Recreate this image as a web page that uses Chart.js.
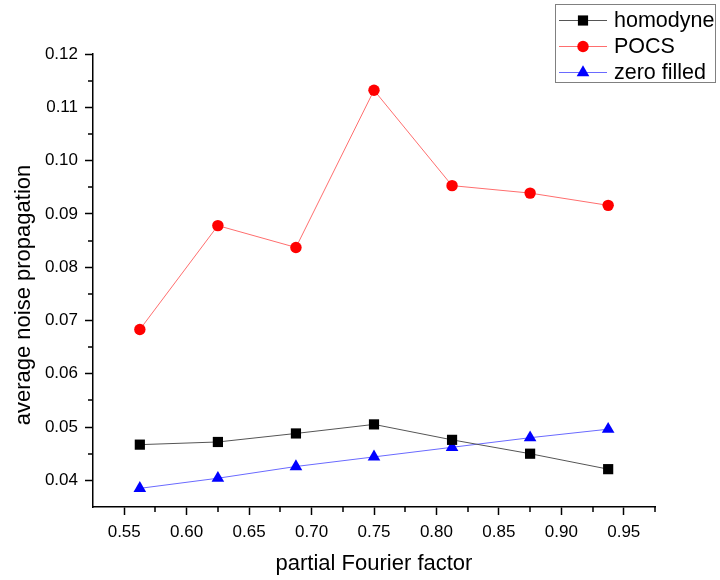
<!DOCTYPE html>
<html>
<head>
<meta charset="utf-8">
<title>average noise propagation</title>
<script src="https://cdn.jsdelivr.net/npm/chart.js@4/dist/chart.umd.min.js"></script>
<style>
  html, body { margin: 0; padding: 0; background: #fff; }
  canvas { display: block; }
</style>
</head>
<body>
<canvas id="chart" width="720" height="580"></canvas>
<script>
// data
const factors = [0.5625, 0.625, 0.6875, 0.75, 0.8125, 0.875, 0.9375];
const homodyne = [0.0467, 0.0472, 0.0488, 0.0505, 0.0476, 0.0450, 0.0421];
const pocs = [0.0683, 0.0878, 0.0837, 0.1132, 0.0953, 0.0939, 0.0916];
const zeroFilled = [0.0385, 0.0404, 0.0426, 0.0444, 0.0462, 0.0480, 0.0496];
const xTicks = [0.55, 0.60, 0.65, 0.70, 0.75, 0.80, 0.85, 0.90, 0.95];
const yTicks = [0.04, 0.05, 0.06, 0.07, 0.08, 0.09, 0.10, 0.11, 0.12];
const yTitle = 'average noise propagation';
const xTitle = 'partial Fourier factor';

const FONT = 'Arial, "Liberation Sans", sans-serif';

const toPoints = (ys) => ys.map((y, i) => ({ x: factors[i], y: y }));

// small marker painter for the legend box
function drawMarker(ctx, style, x, y, r, color) {
    ctx.save();
    ctx.fillStyle = color;
    ctx.beginPath();
    if (style === 'rect') {
        const s = Math.SQRT1_2 * r;
        ctx.rect(x - s, y - s, 2 * s, 2 * s);
    } else if (style === 'circle') {
        ctx.arc(x, y, r, 0, Math.PI * 2);
    } else {
        ctx.moveTo(x, y - r);
        ctx.lineTo(x + r * Math.sin(Math.PI * 2 / 3), y + r / 2);
        ctx.lineTo(x - r * Math.sin(Math.PI * 2 / 3), y + r / 2);
        ctx.closePath();
    }
    ctx.fill();
    ctx.restore();
}

// minor ticks half way between the major ones, pointing outward
const minorTicks = {
    id: 'minorTicks',
    afterDraw(chart) {
        const ctx = chart.ctx;
        const xs = chart.scales.x, ys = chart.scales.y;
        const area = chart.chartArea;
        ctx.save();
        ctx.strokeStyle = '#000';
        ctx.lineWidth = 1.5;
        ctx.beginPath();
        for (let i = 0; i < xTicks.length; i++) {
            const v = xTicks[i] + 0.025;
            if (v > xs.max + 1e-9) continue;
            const px = Math.round(xs.getPixelForValue(v));
            ctx.moveTo(px, area.bottom);
            ctx.lineTo(px, area.bottom + 5);
        }
        for (let i = 0; i < yTicks.length - 1; i++) {
            const v = yTicks[i] + 0.005;
            const py = Math.round(ys.getPixelForValue(v));
            ctx.moveTo(area.left, py);
            ctx.lineTo(area.left - 5, py);
        }
        ctx.stroke();

        // y title sits a bit below the middle of the axis in the original
        ctx.fillStyle = '#000';
        ctx.font = '22px ' + FONT;
        ctx.textAlign = 'center';
        ctx.textBaseline = 'middle';
        ctx.translate(24, 295);
        ctx.rotate(-Math.PI / 2);
        ctx.fillText(yTitle, 0, 0);
        ctx.restore();
    }
};

// boxed legend in the top right corner
const boxLegend = {
    id: 'boxLegend',
    afterDraw(chart) {
        const ctx = chart.ctx;
        ctx.save();
        ctx.strokeStyle = '#808080';
        ctx.lineWidth = 1;
        ctx.strokeRect(555.5, 4.5, 160, 78);
        const rows = [20.5, 46.5, 72.5];
        chart.data.datasets.forEach((ds, i) => {
            const y = rows[i];
            ctx.strokeStyle = ds.borderColor;
            ctx.lineWidth = 1;
            ctx.beginPath();
            ctx.moveTo(559, y);
            ctx.lineTo(607, y);
            ctx.stroke();
            drawMarker(ctx, ds.pointStyle, 583, y, ds.pointRadius, ds.pointBackgroundColor);
            ctx.fillStyle = '#000';
            ctx.font = '21.5px ' + FONT;
            ctx.textBaseline = 'middle';
            ctx.textAlign = 'left';
            ctx.fillText(ds.label, 614, y + 1);
        });
        ctx.restore();
    }
};

const series = [
    { label: 'homodyne', data: toPoints(homodyne), line: '#555555', color: '#000000', style: 'rect', r: 7.2 },
    { label: 'POCS', data: toPoints(pocs), line: '#ff6e6e', color: '#ff0000', style: 'circle', r: 5.7 },
    { label: 'zero filled', data: toPoints(zeroFilled), line: '#6a6aff', color: '#0000ff', style: 'triangle', r: 7.3 }
];

const axisCommon = {
    type: 'linear',
    border: { display: true, color: '#000', width: 1.5 },
    grid: {
        drawOnChartArea: false,
        drawTicks: true,
        tickLength: 8,
        tickColor: '#000',
        tickWidth: 1.5
    },
    ticks: { color: '#000', font: { family: FONT, size: 17 }, padding: 7 }
};

new Chart(document.getElementById('chart'), {
    type: 'line',
    data: {
        datasets: series.map(s => ({
            label: s.label,
            data: s.data,
            borderColor: s.line,
            borderWidth: 1,
            pointStyle: s.style,
            pointRadius: s.r,
            pointHoverRadius: s.r,
            pointBackgroundColor: s.color,
            pointBorderColor: s.color,
            pointBorderWidth: 0,
            tension: 0,
            fill: false
        }))
    },
    options: {
        responsive: false,
        animation: false,
        events: [],
        layout: { padding: { top: 54, right: 65, left: 0, bottom: 0 } },
        plugins: { legend: { display: false }, tooltip: { enabled: false } },
        scales: {
            x: Object.assign({}, axisCommon, {
                min: 0.525,
                max: 0.975,
                afterBuildTicks: (scale) => { scale.ticks = xTicks.map(v => ({ value: v })); },
                afterFit: (scale) => { scale.height = 73; },
                ticks: Object.assign({}, axisCommon.ticks, {
                    maxRotation: 0,
                    autoSkip: false,
                    callback: (v) => Number(v).toFixed(2)
                }),
                title: {
                    display: true,
                    text: xTitle,
                    color: '#000',
                    font: { family: FONT, size: 22 },
                    padding: { top: 0, bottom: 3 }
                }
            }),
            y: Object.assign({}, axisCommon, {
                min: 0.035,
                max: 0.12,
                afterBuildTicks: (scale) => { scale.ticks = yTicks.map(v => ({ value: v })); },
                afterFit: (scale) => { scale.width = 93; },
                ticks: Object.assign({}, axisCommon.ticks, {
                    autoSkip: false,
                    callback: (v) => Number(v).toFixed(2)
                })
            })
        }
    },
    plugins: [minorTicks, boxLegend]
});
</script>
</body>
</html>
